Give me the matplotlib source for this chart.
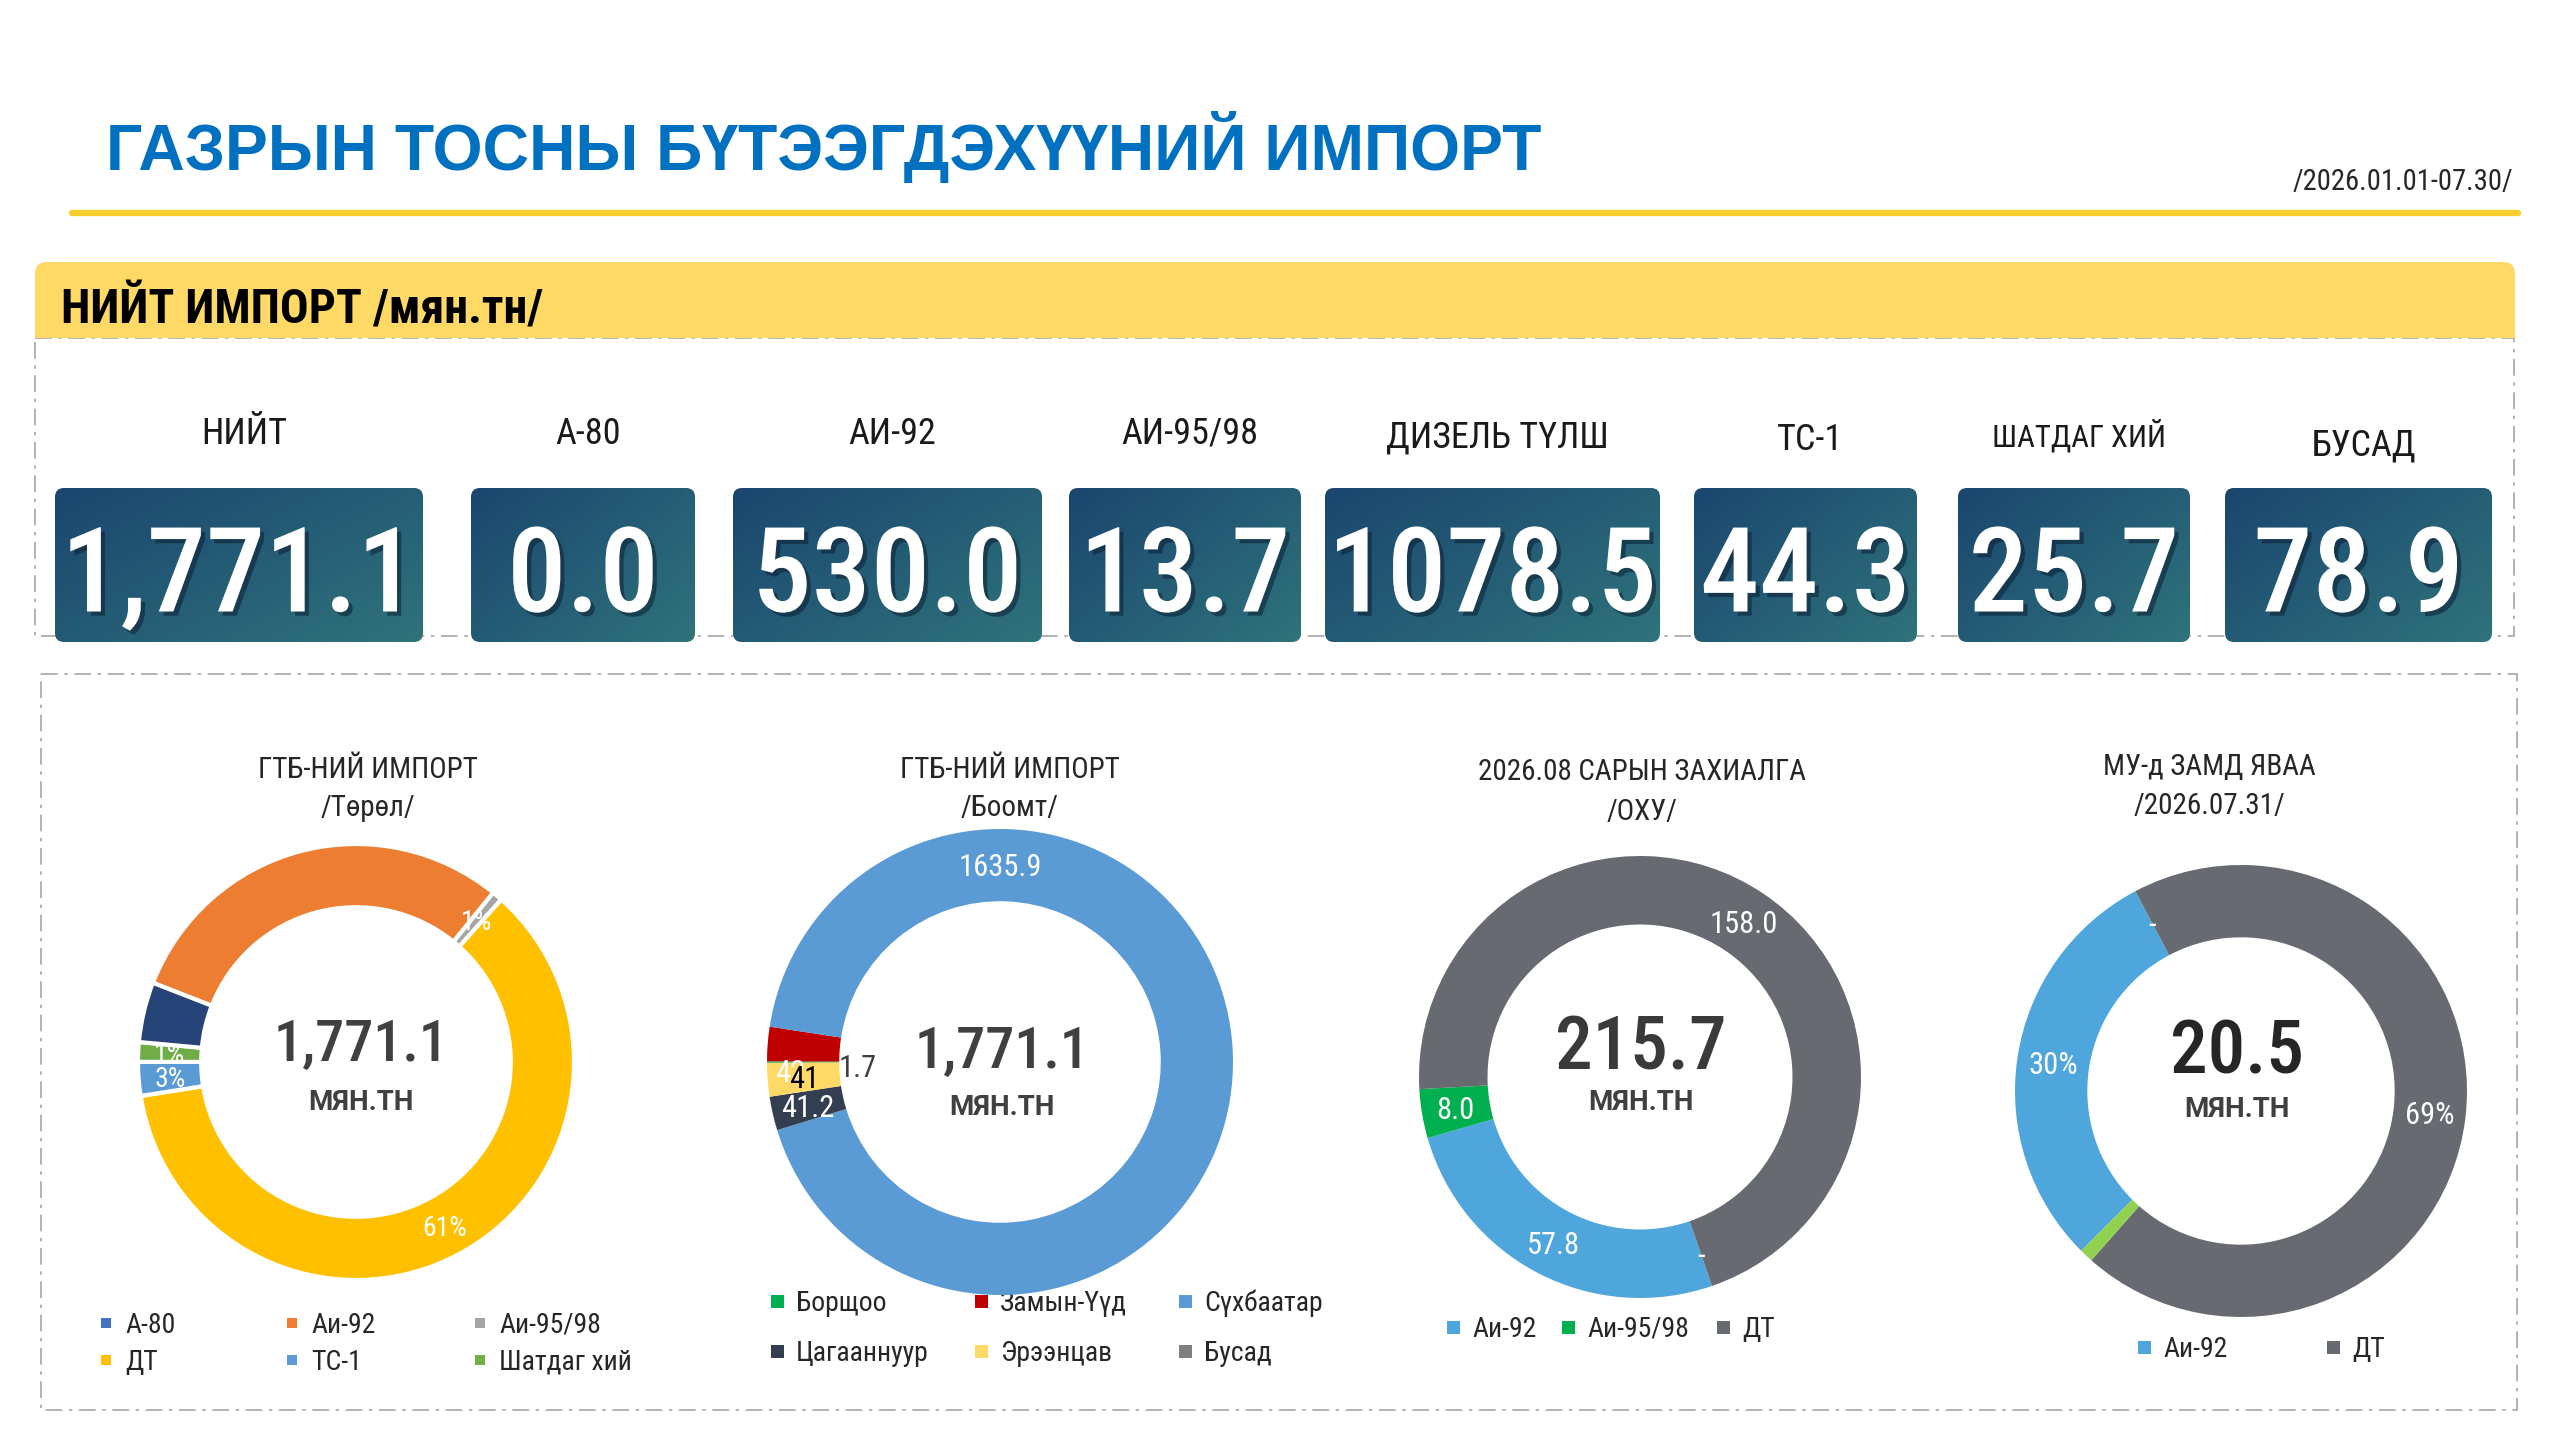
import numpy as np
import matplotlib
matplotlib.use('Agg')
import matplotlib.pyplot as plt
from matplotlib import font_manager as fm
from matplotlib import patheffects as pe
from matplotlib.patches import FancyBboxPatch, Rectangle
from matplotlib.colors import LinearSegmentedColormap

# ---- data ----
title = 'ГАЗРЫН ТОСНЫ БҮТЭЭГДЭХҮҮНИЙ ИМПОРТ'
period = '/2026.01.01-07.30/'
header = 'НИЙТ ИМПОРТ /мян.тн/'

kpi_labels = ['НИЙТ', 'А-80', 'АИ-92', 'АИ-95/98', 'ДИЗЕЛЬ ТҮЛШ', 'ТС-1', 'ШАТДАГ ХИЙ', 'БУСАД']
kpi_values = [1771.1, 0.0, 530.0, 13.7, 1078.5, 44.3, 25.7, 78.9]

type_names = ['А-80', 'Аи-92', 'Аи-95/98', 'ДТ', 'ТС-1', 'Шатдаг хий', 'Бусад']
type_values = [0.0, 530.0, 13.7, 1078.5, 44.3, 25.7, 78.9]
type_colors = ['#4472C4', '#ED7D31', '#A5A5A5', '#FFC000', '#5B9BD5', '#70AD47', '#264478']

port_names = ['Борщоо', 'Замын-Үүд', 'Сүхбаатар', 'Цагааннуур', 'Эрээнцав', 'Бусад']
port_values = [1.7, 42.0, 1635.9, 41.2, 41.0, 0.0]
port_labels = ['1.7', '42', '1635.9', '41.2', '41', None]
port_colors = ['#00B050', '#C00000', '#5B9BD5', '#333F50', '#FFD966', '#7F7F7F']

order_names = ['Аи-92', 'Аи-95/98', 'ДТ', '']
order_values = [57.8, 8.0, 158.0, 0.0]
order_labels = ['57.8', '8.0', '158.0', '-']
order_colors = ['#4EA6DC', '#00B050', '#686A72', '#A5A5A5']

road_names = ['Аи-92', '', 'ДТ', '']
road_values = [6.1, 0.0, 14.2, 0.2]
road_colors = ['#4EA6DC', '#A5A5A5', '#686A72', '#92D050']

center_totals = ['1,771.1', '1,771.1', '215.7', '20.5']
donut_titles = [('ГТБ-НИЙ ИМПОРТ', '/Төрөл/'), ('ГТБ-НИЙ ИМПОРТ', '/Боомт/'),
                ('2026.08 САРЫН ЗАХИАЛГА', '/ОХУ/'), ('МУ-д ЗАМД ЯВАА', '/2026.07.31/')]
unit = 'МЯН.ТН'

# ---- fonts ----
avail = {f.name for f in fm.fontManager.ttflist}


def first(names, default='DejaVu Sans'):
    for n in names:
        if n in avail:
            return n
    return default


cond_faces = [f for f in fm.fontManager.ttflist
              if 'condensed' in str(f.stretch) or 'Condensed' in f.name or 'Narrow' in f.name]
COND = None
for pref in ['Roboto', 'Liberation', 'Noto Sans', 'Open Sans', 'DejaVu']:
    for f in cond_faces:
        if f.name.startswith(pref) and 'CJK' not in f.name:
            COND = f.name
            break
    if COND:
        break
if COND is None:
    COND = first(['Roboto', 'Liberation Sans'])
SANS = first(['Liberation Sans', 'Roboto'])
MED = first(['Roboto', 'Noto Sans'])

# ---- canvas ----
W, H = 2560, 1440
fig = plt.figure(figsize=(25.6, 14.4), dpi=100)
fig.patch.set_facecolor('white')
ax = fig.add_axes([0, 0, 1, 1])
ax.set_xlim(0, W)
ax.set_ylim(H, 0)
ax.axis('off')
R = fig.canvas.get_renderer()
PX = ax.transData


def put(x, y, s, cap, maxw=None, host=None, family=None, weight='normal',
        color='#262626', ha='center', stretch='condensed', **kw):
    # y is the middle of the capitals, cap is cap height in px
    host = host or ax
    t = host.text(x, y + cap / 2, s, transform=PX, fontsize=cap, family=family or COND,
                  fontweight=weight, fontstretch=stretch, color=color, ha=ha,
                  va='baseline', **kw)
    if maxw:
        w = t.get_window_extent(R).width
        if w > maxw:
            c = cap * maxw / w
            t.set_fontsize(c)
            t.set_y(y + c / 2)
    return t


# title, date, yellow rule
put(106, 147, title, 50, maxw=1437, family=SANS, weight='bold', color='#0070C0',
    ha='left', stretch='normal')
put(2513, 180, period, 24, maxw=221, ha='right')
ax.plot([72, 2518], [213, 213], color='#F8CD2E', lw=4.6, solid_capstyle='round')

# header band + dashed frames
ax.add_patch(FancyBboxPatch((35, 262), 2480, 76, boxstyle='round,pad=0,rounding_size=12',
                            fc='#FFD966', ec='none', zorder=3))
ax.add_patch(Rectangle((35, 300), 2480, 38, fc='#FFD966', ec='none', zorder=3))
put(61, 306, header, 37, maxw=482, weight='bold', color='black', ha='left', zorder=4)
dash = (0, (10, 4, 2, 4))
ax.add_patch(Rectangle((35, 338), 2479, 298, fill=False, ec='#A6A6A6', lw=1.2, ls=dash, zorder=1))
ax.add_patch(Rectangle((41, 674), 2476, 736, fill=False, ec='#A6A6A6', lw=1.2, ls=dash, zorder=1))

# KPI tiles
box_l = [55, 471, 733, 1069, 1325, 1694, 1958, 2225]
box_r = [423, 695, 1042, 1301, 1660, 1917, 2190, 2492]
box_t, box_b = 488, 642
lab_y = [431, 431, 431, 431, 434, 437, 435, 443]
kpi_cmap = LinearSegmentedColormap.from_list('kpi', ['#1A466F', '#2F737B'])
yy, xx = np.mgrid[0:1:60j, 0:1:120j]
grad = 0.45 * yy + 0.55 * xx

num_texts = []
for i, (lab, v) in enumerate(zip(kpi_labels, kpi_values)):
    x0, x1 = box_l[i], box_r[i]
    patch = FancyBboxPatch((x0, box_t), x1 - x0, box_b - box_t,
                           boxstyle='round,pad=0,rounding_size=9', fc='none', ec='none', zorder=2)
    ax.add_patch(patch)
    im = ax.imshow(grad, cmap=kpi_cmap, extent=(x0, x1, box_b, box_t), aspect='auto',
                   interpolation='bicubic', zorder=2)
    im.set_clip_path(patch)
    put((x0 + x1) / 2 + 5, lab_y[i], lab, 26, maxw=(x1 - x0) * 0.75, color='#1A1A1A')
    s = f'{v:,.1f}' if i == 0 else f'{v:.1f}'
    t = ax.text((x0 + x1) / 2, 569 + 47, s, fontsize=94, family=COND, fontstretch='condensed',
                fontweight='medium', color='white', ha='center', va='baseline', zorder=5,
                path_effects=[pe.SimplePatchShadow(offset=(3, -3), shadow_rgbFace='#0B1F33', alpha=0.55),
                              pe.Normal()])
    num_texts.append((t, x1 - x0 - 6))
scale = min(1.0, min(mw / t.get_window_extent(R).width for t, mw in num_texts))
for t, mw in num_texts:
    t.set_fontsize(94 * scale)
    t.set_y(569 + 47 * scale)


# donuts
def donut(cx, cy, r, width, start, values, colors, edge='none', lw=0):
    p = 1.05
    axd = fig.add_axes([(cx - p * r) / W, 1 - (cy + p * r) / H, 2 * p * r / W, 2 * p * r / H])
    wedges, _ = axd.pie(values, colors=colors, startangle=start, counterclock=False,
                        radius=1, wedgeprops=dict(width=width, edgecolor=edge, linewidth=lw))
    axd.set_xlim(-p, p)
    axd.set_ylim(-p, p)
    axd.axis('off')
    return axd, wedges


def ring_label(axd, wedge, text, cx, cy, r, rr, color, cap, clock=None):
    a = (wedge.theta1 + wedge.theta2) / 2 if clock is None else 90 - clock
    a = np.radians(a)
    put(cx + rr * r * np.cos(a), cy - rr * r * np.sin(a), text, cap, host=axd, color=color)


def legend(names, colors, idx, xs, ys, size):
    for k, i in enumerate(idx):
        x, y = xs[k % len(xs)], ys[k // len(xs)]
        ax.add_patch(Rectangle((x - size / 2, y - size / 2), size, size, fc=colors[i], ec='none'))
        put(x + 19, y, names[i], 20, ha='left')


def center_text(axd, cx, ny, uy, s, col):
    put(cx, ny, s, 54, maxw=175, host=axd, weight='medium', color=col)
    put(cx, uy, unit, 20, maxw=112, host=axd, family=MED, weight='bold', color='#404040',
        stretch='normal')


# 1: by type
cx, cy, r, wd = 356, 1062, 218, 0.29
axd, wg = donut(cx, cy, r, wd, 158.7, type_values, type_colors, edge='white', lw=3)
tot = sum(type_values)
for i in [2, 3, 4, 5]:
    ring_label(axd, wg[i], f'{round(100 * type_values[i] / tot)}%', cx, cy, r, 1 - wd / 2, 'white', 20)
center_text(axd, 361, 1040, 1100, center_totals[0], '#404040')
legend(type_names, type_colors, range(6), [106, 292, 480], [1323, 1360], 10)

# 2: by border port
cx, cy, r, wd = 1000, 1062, 233, 0.31
axd, wg = donut(cx, cy, r, wd, 180.2, port_values, port_colors)
port_txt = ['#404040', 'white', 'white', 'white', 'black', 'white']
port_pos = {0: (268.4, 0.61), 1: (267.5, 0.90), 2: (0.0, 1 - wd / 2)}
for i, lab in enumerate(port_labels):
    if lab is None:
        continue
    clock, rr = port_pos.get(i, (None, 1 - wd / 2))
    ring_label(axd, wg[i], lab, cx, cy, r, rr, port_txt[i], 22, clock=clock)
center_text(axd, 1002, 1047, 1105, center_totals[1], '#404040')
legend(port_names, port_colors, range(6), [777, 981, 1185], [1301, 1351], 13)

# 3: August order
cx, cy, r, wd = 1640, 1077, 221, 0.31
axd, wg = donut(cx, cy, r, wd, -71, order_values, order_colors)
for i, lab in enumerate(order_labels):
    ring_label(axd, wg[i], lab, cx, cy, r, 1 - wd / 2, 'white', 22)
center_text(axd, 1641, 1042, 1100, center_totals[2], '#3A3A3A')
legend(order_names, order_colors, range(3), [1453, 1568, 1723], [1327], 13)

# 4: on the road
cx, cy, r, wd = 2241, 1091, 226, 0.32
axd, wg = donut(cx, cy, r, wd, -135, road_values, road_colors)
tot = sum(road_values)
for i, lab in [(0, None), (1, '-'), (2, None)]:
    lab = lab or f'{round(100 * road_values[i] / tot)}%'
    ring_label(axd, wg[i], lab, cx, cy, r, 1 - wd / 2, 'white', 22)
center_text(axd, 2237, 1047, 1107, center_totals[3], '#262626')
legend(road_names, road_colors, [0, 2], [2144, 2333], [1347], 13)

# donut titles
title_x = [368, 1010, 1642, 2209]
title_y = [(768, 805), (768, 805), (770, 809), (765, 804)]
for (a, b), x, (y1, y2) in zip(donut_titles, title_x, title_y):
    put(x, y1, a, 21, maxw=340)
    put(x, y2, b, 21, maxw=200)

ax.set_xlim(0, W)
ax.set_ylim(H, 0)
fig.savefig('out.png', dpi=100, facecolor='white')
